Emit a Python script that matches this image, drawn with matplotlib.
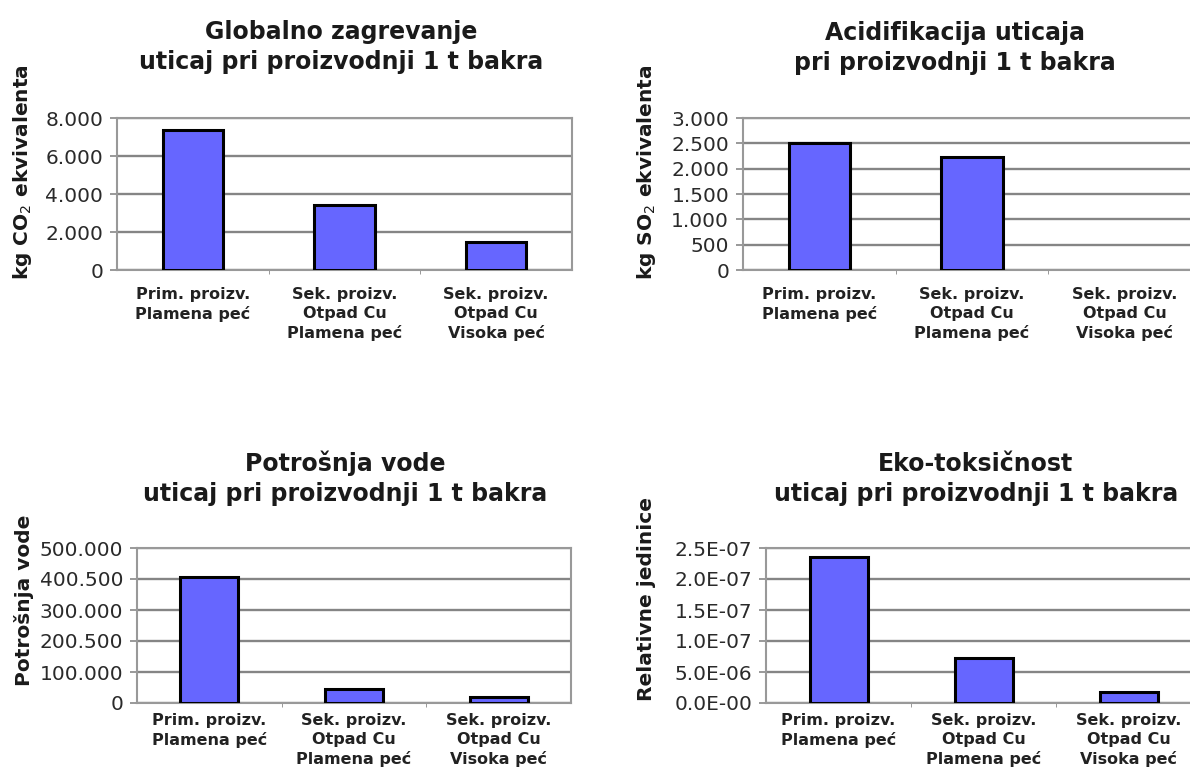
import matplotlib.pyplot as plt
import numpy as np

plt.rcParams['font.family'] = ['DejaVu Sans']

categories = ["Prim. proizv.\nPlamena peć",
              "Sek. proizv.\nOtpad Cu\nPlamena peć",
              "Sek. proizv.\nOtpad Cu\nVisoka peć"]

# globalno zagrevanje, kg CO2
co2_values = [7350, 3430, 1490]
co2_ticks = [0, 2000, 4000, 6000, 8000]
co2_ticklabels = ["0", "2.000", "4.000", "6.000", "8.000"]

# acidifikacija, kg SO2
so2_values = [2500, 2230, 0]
so2_ticks = [0, 500, 1000, 1500, 2000, 2500, 3000]
so2_ticklabels = ["0", "500", "1.000", "1.500", "2.000", "2.500", "3.000"]

# potrosnja vode
water_values = [406000, 45000, 18000]
water_ticks = [0, 100000, 200000, 300000, 400000, 500000]
water_ticklabels = ["0", "100.000", "200.500", "300.000", "400.500", "500.000"]

# eko-toksicnost
eco_values = [2.36e-7, 0.72e-7, 0.18e-7]
eco_ticks = [0, 0.5e-7, 1.0e-7, 1.5e-7, 2.0e-7, 2.5e-7]
eco_ticklabels = ["0.0E-00", "5.0E-06", "1.0E-07", "1.5E-07", "2.0E-07", "2.5E-07"]

W, H = 1190, 778
fig = plt.figure(figsize=(W / 100, H / 100), dpi=100)

def px_axes(x0, y0, x1, y1):
    return fig.add_axes([x0 / W, 1 - y1 / H, (x1 - x0) / W, (y1 - y0) / H])

panels = [
    # box, values, ticks, labels, title, title pos, ylabel, ylabel pos, xlabel pad
    ((117, 118, 572, 270), co2_values, co2_ticks, co2_ticklabels,
     "Globalno zagrevanje\nuticaj pri proizvodnji 1 t bakra", (341, 47),
     "kg CO$_2$ ekvivalenta", (23, 172), 12),
    ((743, 118, 1201, 270), so2_values, so2_ticks, so2_ticklabels,
     "Acidifikacija uticaja\npri proizvodnji 1 t bakra", (955, 48),
     "kg SO$_2$ ekvivalenta", (647, 172), 12),
    ((137, 548, 571, 703), water_values, water_ticks, water_ticklabels,
     "Potrošnja vode\nuticaj pri proizvodnji 1 t bakra", (345, 478),
     "Potrošnja vode", (24, 600), 7),
    ((766, 548, 1201, 703), eco_values, eco_ticks, eco_ticklabels,
     "Eko-toksičnost\nuticaj pri proizvodnji 1 t bakra", (976, 479),
     "Relativne jedinice", (647, 599), 7),
]

for box, vals, ticks, tlabels, title, tpos, ylab, ypos, pad in panels:
    ax = px_axes(*box)
    x = np.arange(len(vals)) + 0.5
    bars = ax.bar(x, vals, width=0.4, color='#6666ff', edgecolor='black', linewidth=2.2, zorder=3)
    for b, v in zip(bars, vals):
        if v == 0:
            b.set_visible(False)
    ax.set_xlim(0, 3)
    ax.set_ylim(0, ticks[-1])
    ax.set_yticks(ticks)
    ax.set_yticklabels(tlabels, fontsize=14.5, color='#2a2a2a')
    ax.set_xticks(x)
    ax.set_xticklabels(categories, fontsize=11.5, fontweight='bold', color='#222222',
                       linespacing=1.35, va='top')
    ax.set_xticks([1, 2], minor=True)
    ax.tick_params(axis='x', which='major', length=0, pad=pad)
    ax.tick_params(axis='x', which='minor', length=3, color='#888888', direction='out')
    ax.tick_params(axis='y', length=5, color='#888888', width=1.2, pad=5)
    ax.yaxis.grid(True, color='#858585', linewidth=1.7, zorder=0)
    for s in ax.spines.values():
        s.set_color('#999999')
        s.set_linewidth(1.5)
    fig.text(tpos[0] / W, 1 - tpos[1] / H, title, ha='center', va='center',
             fontsize=17, fontweight='bold', color='#1a1a1a', linespacing=1.3)
    fig.text(ypos[0] / W, 1 - ypos[1] / H, ylab, ha='center', va='center',
             rotation=90, fontsize=14.5, fontweight='bold', color='#1a1a1a')

fig.savefig("out.png", dpi=100)
